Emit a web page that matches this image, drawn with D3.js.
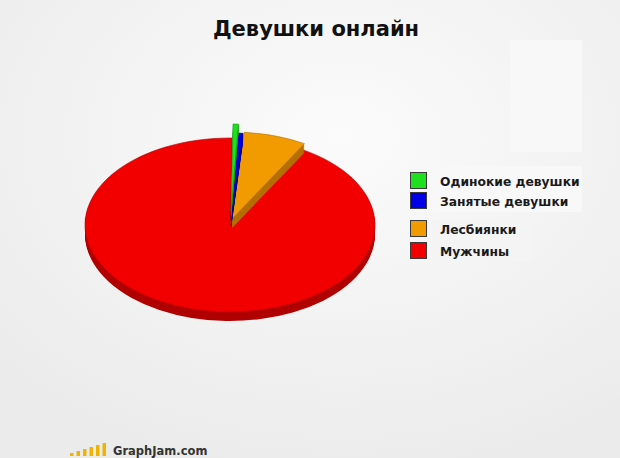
<!DOCTYPE html>
<html><head><meta charset="utf-8">
<script src="https://cdn.jsdelivr.net/npm/d3@7"></script>
<style>html,body{margin:0;padding:0;background:#f2f2f2;}svg{display:block;}</style>
</head><body>
<script>
// ---- data ----
const title = "Девушки онлайн";
const categories = ["Одинокие девушки", "Занятые девушки", "Лесбиянки", "Мужчины"];
const values = [0.6, 0.5, 7.0, 91.9];
const colors = ["#1fe01f", "#0000e6", "#f29b00", "#f20000"];
const sideColors = ["#139a13", "#00008f", "#b56f00", "#b00000"];
const watermark = "GraphJam.com";

// ---- style ----
const W = 620, H = 458;
const cx = 230, cy = 225, rx = 145, ry = 87, depth = 9;
const explode = [[1, -14], [1, -5], [2, -6], [0, 0]]; // per-slice offset (px)

const svg = d3.select("body").append("svg").attr("width", W).attr("height", H);
const defs = svg.append("defs");
const bg = defs.append("radialGradient").attr("id", "bg").attr("cx", "55%").attr("cy", "30%").attr("r", "75%");
bg.append("stop").attr("offset", "0%").attr("stop-color", "#fbfbfb");
bg.append("stop").attr("offset", "100%").attr("stop-color", "#ebebeb");
svg.append("rect").attr("width", W).attr("height", H).attr("fill", "url(#bg)");
// lighter artefact blocks of the original image
svg.append("rect").attr("x", 510).attr("y", 40).attr("width", 72).attr("height", 112).attr("fill", "#f8f8f8");
svg.append("rect").attr("x", 432).attr("y", 166).attr("width", 150).attr("height", 46).attr("fill", "#f8f8f8");
svg.append("rect").attr("x", 432).attr("y", 220).attr("width", 100).attr("height", 42).attr("fill", "#f4f4f4");

svg.append("text").attr("x", 316).attr("y", 36).attr("text-anchor", "middle")
  .attr("font-family", "DejaVu Sans, Verdana, sans-serif").attr("font-weight", "bold")
  .attr("font-size", 21).attr("fill", "#111").text(title);

const pie = d3.pie().sort(null).startAngle(0.014).endAngle(2 * Math.PI + 0.014);
const arcs = pie(values);
const arc = d3.arc().innerRadius(0).outerRadius(rx);
const k = ry / rx;

const pieG = svg.append("g");
// draw red (largest) first, then small exploded slices over it
const order = [3, 2, 1, 0];
order.forEach(i => {
  const a = arcs[i];
  const [ox, oy] = explode[i];
  const g = pieG.append("g");
  for (let d = depth; d >= 1; d--) {
    g.append("path")
      .attr("transform", `translate(${cx + ox},${cy + oy + d}) scale(1,${k})`)
      .attr("d", arc(a)).attr("fill", sideColors[i]);
  }
  g.append("path")
    .attr("transform", `translate(${cx + ox},${cy + oy}) scale(1,${k})`)
    .attr("d", arc(a)).attr("fill", colors[i])
    .attr("stroke", sideColors[i]).attr("stroke-width", 0.6).attr("vector-effect", "non-scaling-stroke");
});

// legend
const legY = [172, 192, 220, 242];
const lg = svg.append("g");
categories.forEach((c, i) => {
  lg.append("rect").attr("x", 410.5).attr("y", legY[i] + 0.5).attr("width", 16).attr("height", 16)
    .attr("fill", colors[i]).attr("stroke", "#3a3a3a").attr("stroke-width", 1);
  lg.append("text").attr("x", 440).attr("y", legY[i] + 14)
    .attr("font-family", "DejaVu Sans, Verdana, sans-serif").attr("font-weight", "bold")
    .attr("font-size", 12.3).attr("fill", "#1a1a1a").text(c);
});

// watermark
const barH = [3, 5, 7, 9, 11, 13];
const wm = svg.append("g");
barH.forEach((h, i) => {
  wm.append("rect").attr("x", 70 + i * 6.5).attr("y", 456 - h).attr("width", 3.5).attr("height", h).attr("fill", "#f0b400");
});
wm.append("text").attr("x", 113).attr("y", 455)
  .attr("font-family", "DejaVu Sans, Verdana, sans-serif").attr("font-weight", "bold")
  .attr("font-size", 11.5).attr("fill", "#333").text(watermark);
</script>
</body></html>
